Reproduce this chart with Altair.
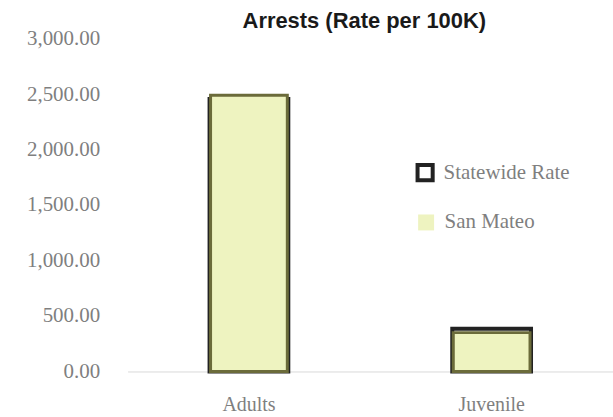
import altair as alt
import pandas as pd

categories = ["Adults", "Juvenile"]
statewide = [2455, 386]
san_mateo = [2490, 350]
y_ticks = [0, 500, 1000, 1500, 2000, 2500, 3000]

df_state = pd.DataFrame({"cat": categories, "value": statewide, "series": ["Statewide Rate"] * 2})
df_sm = pd.DataFrame({"cat": categories, "value": san_mateo, "series": ["San Mateo"] * 2})

SERIF = "Liberation Serif"
GRAY = "#7f7f7f"

x = alt.X("cat:N", sort=categories, title=None,
          scale=alt.Scale(paddingInner=0, paddingOuter=0),
          axis=alt.Axis(labelAngle=0, labelFont=SERIF, labelFontSize=20, labelColor=GRAY,
                        labelPadding=23, ticks=False, domainColor="#d9d9d9", domainWidth=1))
y = alt.Y("value:Q", title=None,
          scale=alt.Scale(domain=[0, 3000], nice=False),
          axis=alt.Axis(values=y_ticks, format=",.2f", labelFont=SERIF, labelFontSize=21,
                        labelColor=GRAY, labelPadding=28, ticks=False, domain=False, grid=False))

state = alt.Chart(df_state).mark_bar(size=79, fill="white", fillOpacity=0, strokeWidth=4).encode(
    x=x, y=y,
    stroke=alt.Stroke("series:N", scale=alt.Scale(domain=["Statewide Rate"], range=["#222222"]),
                      legend=alt.Legend(title=None, orient="none", legendX=288, legendY=124,
                                        symbolType="square", symbolSize=230, symbolStrokeWidth=4,
                                        symbolFillColor="white", labelFont=SERIF, labelFontSize=21,
                                        labelColor=GRAY, labelOffset=8)),
)

sm = alt.Chart(df_sm).mark_bar(size=77, stroke="#6b6b3a", strokeWidth=3).encode(
    x=x, y=y,
    fill=alt.Fill("series:N", scale=alt.Scale(domain=["San Mateo"], range=["#eef3c0"]),
                  legend=alt.Legend(title=None, orient="none", legendX=289, legendY=174,
                                    symbolType="square", symbolSize=256, symbolStrokeWidth=0,
                                    labelFont=SERIF, labelFontSize=21, labelColor=GRAY,
                                    labelOffset=8)),
)

chart = alt.layer(state, sm).resolve_scale(fill="independent", stroke="independent").properties(
    width=487, height=334,
    title=alt.Title("Arrests (Rate per 100K)", font="Liberation Sans", fontSize=22,
                    fontWeight="bold", color="#1a1a1a", anchor="middle", offset=8, dy=13, dx=-6),
    autosize=alt.AutoSizeParams(type="none"),
    padding={"left": 128, "top": 38, "right": 0, "bottom": 45},
).configure_view(stroke=None)

chart.save("out.html", embed_options={"renderer": "svg", "actions": False})
